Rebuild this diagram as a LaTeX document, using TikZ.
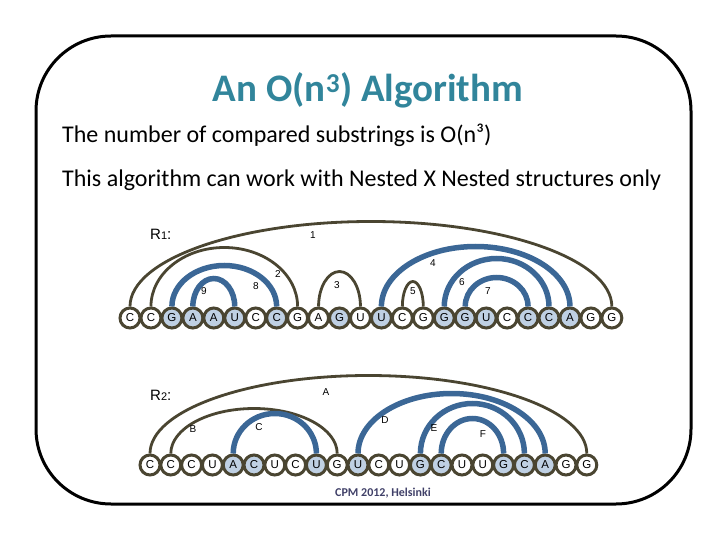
\documentclass[tikz,border=0pt]{standalone}
\usepackage{fontspec}
\setmainfont{Carlito}
\newfontfamily\diagfont{Liberation Sans}
\usetikzlibrary{positioning}
\definecolor{rnadark}{RGB}{74,69,49}
\definecolor{rnablue}{RGB}{59,103,150}
\definecolor{rnafill}{RGB}{191,208,227}
\definecolor{titleteal}{RGB}{49,133,155}
\definecolor{footnavy}{RGB}{64,64,104}

\begin{document}
\begin{tikzpicture}[x=1pt,y=-1pt,
      base/.style={circle,draw=rnadark,line width=3pt,fill=white,minimum size=20pt,inner sep=0pt,
        font=\diagfont\fontsize{11.5}{11.5}\selectfont},
      hit/.style={base,fill=rnafill},
      darc/.style={draw=rnadark,line width=2.8pt},
      barc/.style={draw=rnablue,line width=5.5pt},
      lbl/.style={font=\diagfont\fontsize{10}{10}\selectfont,inner sep=1pt}]
    \useasboundingbox (0,0) rectangle (720,540);
    \draw[line width=3pt,rounded corners=75pt] (36,36) rectangle (691,504);
    \node[anchor=base,font=\bfseries\fontsize{39}{39}\selectfont,text=titleteal] (title) at (368,102) {An O(n\textsuperscript{3}) Algorithm};
    \node[anchor=base west,font=\fontsize{24}{24}\selectfont,inner sep=0pt] (txta) at (62,143) {The number of compared substrings is O(n³)};
    \node[anchor=base west,font=\fontsize{24}{24}\selectfont,inner sep=0pt] (txtb) at (62,187) {This algorithm can work with Nested X Nested structures only};
    % first structure
    \node[anchor=base west,font=\diagfont\fontsize{15}{15}\selectfont,inner sep=0pt] (ra) at (150,240) {R{\fontsize{11}{11}\selectfont 1}:};
    \foreach \b/\s [count=\i from 0] in {C/base,C/base,G/hit,A/hit,A/hit,U/hit,C/base,C/hit,G/base,A/base,G/hit,U/base,
        U/hit,C/base,G/base,G/hit,G/hit,U/hit,C/base,C/hit,C/hit,A/hit,G/base,G/base}
      \node[\s] (a\i) at (130+20.95*\i,318) {\b};
    \foreach \ia/\ib/\h/\s in {0/23/85/darc,1/8/59/darc,2/7/41/barc,3/5/28/barc,9/11/35/darc,
        12/21/60/barc,13/14/25/darc,15/20/48/barc,16/19/29/barc}
      \draw[\s] (a\ia.north) arc[start angle=180,end angle=0,x radius={(\ib-\ia)*10.475pt},y radius=\h pt];
    \node[lbl] (la1) at (313,235) {1};
    \node[lbl] (la2) at (278,274) {2};
    \node[lbl] (la8) at (256,286) {8};
    \node[lbl] (la9) at (204,291) {9};
    \node[lbl] (la3) at (337,285) {3};
    \node[lbl] (la4) at (433,263) {4};
    \node[lbl] (la5) at (413,291) {5};
    \node[lbl] (la6) at (462,282) {6};
    \node[lbl] (la7) at (488,291) {7};
    % second structure
    \node[anchor=base west,font=\diagfont\fontsize{15}{15}\selectfont,inner sep=0pt] (rb) at (150,400) {R{\fontsize{11}{11}\selectfont 2}:};
    \foreach \b/\s [count=\i from 0] in {C/base,C/base,C/base,U/base,A/hit,C/hit,U/base,C/base,U/hit,G/base,U/hit,C/base,
        U/base,G/hit,C/hit,U/base,U/base,G/hit,C/hit,A/hit,G/base,G/base}
      \node[\s] (b\i) at (150+20.8*\i,465) {\b};
    \foreach \ia/\ib/\h/\s in {0/21/78/darc,1/9/45/darc,4/8/40/barc,10/19/60/barc,13/18/50/barc,14/17/35/barc}
      \draw[\s] (b\ia.north) arc[start angle=180,end angle=0,x radius={(\ib-\ia)*10.4pt},y radius=\h pt];
    \node[lbl] (lbA) at (326,392) {A};
    \node[lbl] (lbB) at (193,429) {B};
    \node[lbl] (lbC) at (259,427) {C};
    \node[lbl] (lbD) at (385,420) {D};
    \node[lbl] (lbE) at (434,428) {E};
    \node[lbl] (lbF) at (483,434) {F};
    \node[font=\bfseries\fontsize{12}{12}\selectfont,text=footnavy] (foot) at (383,493) {CPM 2012, Helsinki};
  \end{tikzpicture}
\end{document}
